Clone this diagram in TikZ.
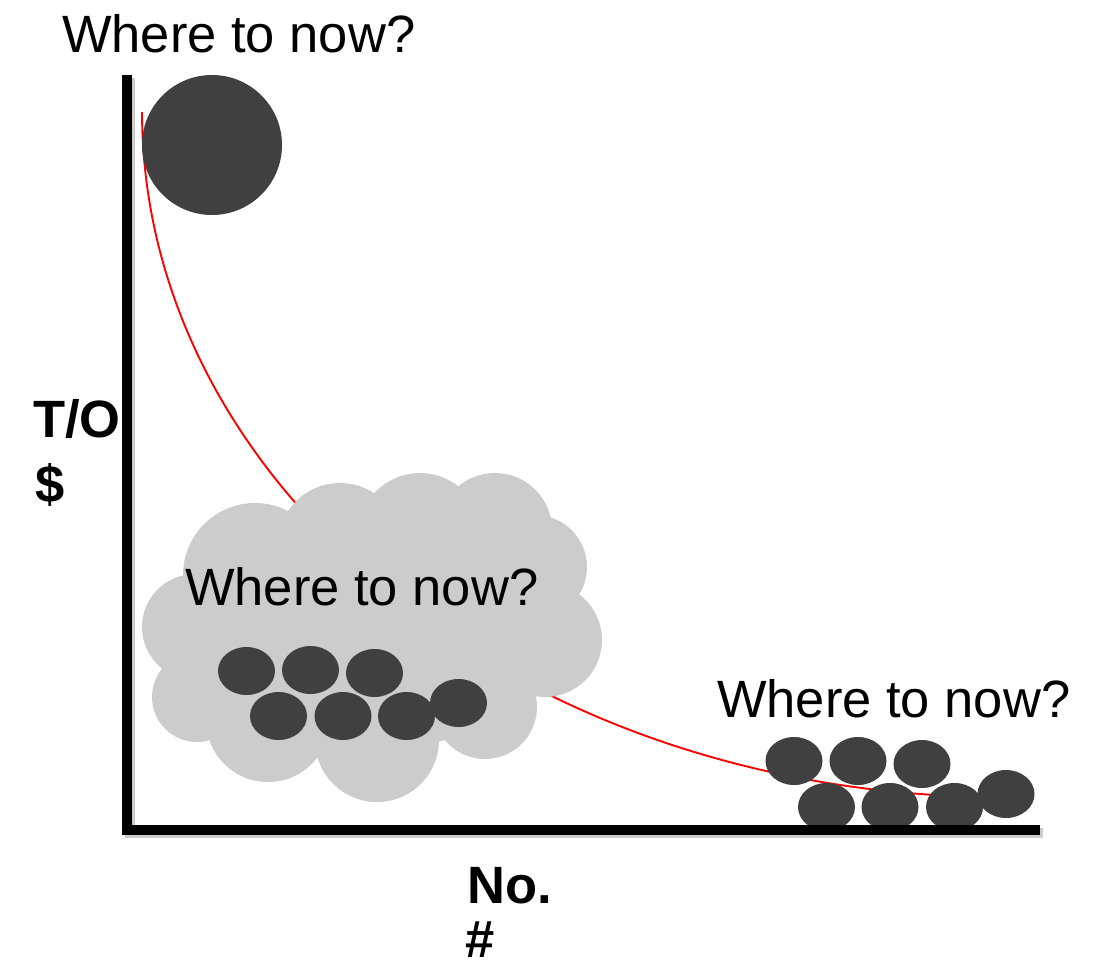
\documentclass[tikz,border=0pt]{standalone}
\usepackage{fontspec}
\setmainfont{Liberation Sans}
\usepackage{tikz}
\usetikzlibrary{positioning,calc}

\definecolor{blobgray}{HTML}{404040}
\definecolor{cloudgray}{HTML}{CCCCCC}

\tikzset{
  blob/.style={fill=blobgray,draw=none},
  puff/.style={fill=cloudgray,draw=none},
  bigtext/.style={inner sep=0pt,anchor=base west,
                  font=\fontsize{52.5}{63}\selectfont},
  axislabel/.style={bigtext,font=\fontsize{52.5}{63}\selectfont\bfseries},
  axisline/.style={line width=10pt},
}

\begin{document}
\begin{tikzpicture}[x=1pt,y=-1pt]
  \useasboundingbox (0,0) rectangle (1095,967);
  \def\rx{28.5pt}
  \def\ry{24pt}

  % Trade-off curve, a quarter of an ellipse.
  \draw[red,line width=1.9pt] plot[domain=180:93,samples=80,smooth]
      ({1000+858*cos(\x)},{112+685*sin(\x)});

  % The single big one.
  \fill[blob] (212,145) circle (70pt);

  % Cloud made of overlapping puffs.
  \fill[puff] (370,640) ellipse [x radius=180pt,y radius=110pt];
  \foreach \cx/\cy/\r in {
      255/575/72, 340/545/62, 420/535/62, 495/530/57,
      535/567/52, 545/640/57, 485/707/52, 377/740/62,
      268/720/62, 197/697/45, 195/627/53
  }{
      \fill[puff] (\cx,\cy) circle (\r pt);
  }

  % Small ones inside the cloud.
  \foreach \cx/\cy in {
      246.5/671, 310.5/670, 374.5/673,
      278.5/716, 343/716, 406.5/716, 458.5/703
  }{
      \fill[blob] (\cx,\cy) ellipse [x radius=\rx,y radius=\ry];
  }

  % Small ones down the tail.
  \foreach \cx/\cy in {
      794/761, 858/761, 922/764,
      826.5/807, 890/807, 954.5/807, 1006/794
  }{
      \fill[blob] (\cx,\cy) ellipse [x radius=\rx,y radius=\ry];
  }

  % Axes.
  \draw[axisline,black!20] (130,78) -- (130,833) -- (1043,833);
  \draw[axisline] (127,75) -- (127,830) -- (1040,830);

  \node[bigtext] (asktop) at (62,52) {Where to now?};
  \node[bigtext] (askcloud) at (185,605) {Where to now?};
  \node[bigtext] (askright) at (717,717) {Where to now?};

  \node[axislabel] (ylabel) at (33,437) {T/O};
  \node[axislabel] (yunit) at (35,502) {\$};
  \node[axislabel] (xlabel) at (467,903) {No.};
  \node[axislabel] (xunit) at (465,957) {\bfseries\char`\#};
\end{tikzpicture}
\end{document}
